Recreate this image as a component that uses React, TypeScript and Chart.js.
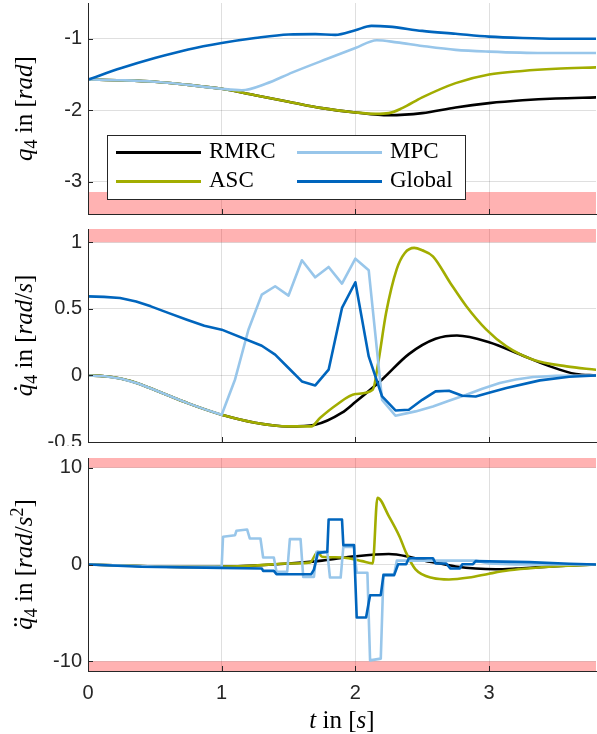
import React, { useEffect, useRef } from 'react';
import { Chart, registerables } from 'chart.js';

Chart.register(...registerables);

// ---------- series meta ----------
const SERIES_NAMES = ['RMRC', 'ASC', 'MPC', 'Global'];
const SERIES_COLORS = ['#000000', '#A2AD00', '#98C6EA', '#0065BD'];
const SERIES_ORDER = [3, 2, 1, 0];

const T_MAX = 3.8;
const X_TICKS = [0, 1, 2, 3];
const X_TICK_LABELS = ['0', '1', '2', '3'];

// ---------- q4 [rad] ----------
const Q_Y_TICKS = [-3, -2, -1];
const Q_Y_LABELS = ['-3', '-2', '-1'];
const Q_LOWER_LIMIT = -3.1416;

const Q_T_RMRC = [0, 0.25, 0.5, 0.75, 1.0, 1.25, 1.5, 1.75, 2.0, 2.25, 2.5, 2.75, 3.0, 3.25, 3.5, 3.8];
const Q_RMRC = [-1.57, -1.58, -1.6, -1.645, -1.7, -1.79, -1.88, -1.97, -2.03, -2.07, -2.04, -1.96, -1.9, -1.86, -1.835, -1.82];
const Q_T_ASC = [0, 0.25, 0.5, 0.75, 1.0, 1.25, 1.5, 1.75, 2.0, 2.15, 2.25, 2.35, 2.5, 2.75, 3.0, 3.25, 3.5, 3.8];
const Q_ASC = [-1.57, -1.58, -1.6, -1.645, -1.7, -1.79, -1.88, -1.97, -2.03, -2.05, -2.04, -1.97, -1.82, -1.62, -1.5, -1.45, -1.42, -1.4];
const Q_T_MPC = [0, 0.25, 0.5, 0.75, 1.0, 1.15, 1.33, 1.53, 1.79, 2.0, 2.16, 2.31, 2.5, 2.75, 3.0, 3.4, 3.8];
const Q_MPC = [-1.57, -1.58, -1.6, -1.645, -1.7, -1.72, -1.63, -1.47, -1.28, -1.13, -1.02, -1.05, -1.1, -1.155, -1.18, -1.2, -1.2];
const Q_T_GLOBAL = [0, 0.25, 0.5, 0.75, 1.0, 1.25, 1.5, 1.7, 1.85, 2.0, 2.12, 2.25, 2.5, 2.75, 3.0, 3.25, 3.5, 3.8];
const Q_GLOBAL = [-1.57, -1.41, -1.27, -1.15, -1.06, -0.99, -0.94, -0.935, -0.945, -0.88, -0.82, -0.83, -0.89, -0.93, -0.97, -0.99, -1.0, -1.0];

// ---------- q4 dot [rad/s] ----------
const QD_Y_TICKS = [-0.5, 0, 0.5, 1];
const QD_Y_LABELS = ['-0.5', '0', '0.5', '1'];
const QD_UPPER_LIMIT = 1.0;

const QD_T_RMRC = [0, 0.125, 0.25, 0.375, 0.5, 0.625, 0.75, 0.875, 1.0, 1.25, 1.5, 1.7, 1.9, 2.0, 2.2, 2.4, 2.6, 2.76, 3.0, 3.25, 3.45, 3.65, 3.8];
const QD_RMRC = [0, -0.006, -0.025, -0.06, -0.11, -0.16, -0.21, -0.255, -0.295, -0.355, -0.383, -0.37, -0.28, -0.2, -0.03, 0.16, 0.275, 0.3, 0.25, 0.15, 0.07, 0.01, 0];
const QD_T_ASC = [0, 0.125, 0.25, 0.375, 0.5, 0.625, 0.75, 0.875, 1.0, 1.25, 1.5, 1.67, 1.735, 1.86, 2.0, 2.13, 2.17, 2.23, 2.31, 2.37, 2.44, 2.5, 2.58, 2.71, 2.83, 2.98, 3.13, 3.33, 3.58, 3.8];
const QD_ASC = [0, -0.006, -0.025, -0.06, -0.11, -0.16, -0.21, -0.255, -0.295, -0.355, -0.383, -0.383, -0.32, -0.22, -0.14, -0.107, 0.09, 0.47, 0.8, 0.92, 0.958, 0.94, 0.895, 0.695, 0.52, 0.344, 0.218, 0.118, 0.068, 0.043];
const QD_T_MPC = [0, 0.125, 0.25, 0.375, 0.5, 0.625, 0.75, 0.875, 1.0, 1.1, 1.2, 1.3, 1.4, 1.5, 1.6, 1.7, 1.8, 1.9, 2.0, 2.1, 2.2, 2.3, 2.45, 2.58, 2.7, 2.83, 2.95, 3.08, 3.2, 3.33, 3.5, 3.8];
const QD_MPC = [0, -0.006, -0.025, -0.06, -0.11, -0.16, -0.21, -0.255, -0.295, -0.03, 0.343, 0.607, 0.67, 0.6, 0.865, 0.737, 0.815, 0.69, 0.877, 0.79, -0.183, -0.303, -0.27, -0.233, -0.19, -0.145, -0.1, -0.057, -0.03, -0.012, -0.003, 0];
const QD_T_GLOBAL = [0, 0.12, 0.24, 0.36, 0.47, 0.6, 0.74, 0.87, 1.0, 1.3, 1.4, 1.5, 1.6, 1.7, 1.8, 1.9, 2.0, 2.1, 2.2, 2.3, 2.4, 2.5, 2.6, 2.7, 2.8, 2.9, 3.0, 3.13, 3.38, 3.6, 3.8];
const QD_GLOBAL = [0.594, 0.59, 0.582, 0.555, 0.519, 0.47, 0.419, 0.374, 0.344, 0.223, 0.156, 0.056, -0.045, -0.075, 0.043, 0.507, 0.7, 0.143, -0.158, -0.263, -0.258, -0.183, -0.12, -0.115, -0.153, -0.158, -0.13, -0.095, -0.037, -0.01, 0];

// ---------- q4 ddot [rad/s^2] ----------
const QDD_Y_TICKS = [-10, 0, 10];
const QDD_Y_LABELS = ['-10', '0', '10'];
const QDD_UPPER_LIMIT = 10;
const QDD_LOWER_LIMIT = -10;

const QDD_T_RMRC = [0, 0.25, 0.5, 0.75, 1.0, 1.25, 1.5, 1.75, 2.0, 2.25, 2.4, 2.5, 2.63, 2.75, 2.9, 3.05, 3.2, 3.35, 3.5, 3.65, 3.8];
const QDD_RMRC = [0, -0.1, -0.2, -0.25, -0.22, -0.1, 0.1, 0.4, 0.85, 1.08, 0.8, 0.45, 0.1, -0.2, -0.42, -0.49, -0.42, -0.3, -0.17, -0.07, 0];
const QDD_T_ASC = [0, 0.25, 0.5, 0.75, 1.0, 1.25, 1.5, 1.66, 1.72, 1.75, 1.85, 1.95, 2.05, 2.13, 2.165, 2.25, 2.33, 2.38, 2.45, 2.58, 2.7, 2.85, 3.0, 3.15, 3.35, 3.6, 3.8];
const QDD_ASC = [0, -0.1, -0.2, -0.25, -0.22, -0.1, 0.1, 0.2, 1.3, 0.8, 0.75, 0.65, 0.35, 0.12, 6.9, 5.0, 2.9, 1.2, -0.5, -1.4, -1.55, -1.35, -0.95, -0.6, -0.33, -0.12, 0];
const QDD_T_MPC = [0, 0.25, 0.5, 0.75, 1.0, 1.01, 1.1, 1.11, 1.19, 1.21, 1.29, 1.31, 1.39, 1.41, 1.49, 1.51, 1.59, 1.61, 1.69, 1.71, 1.79, 1.81, 1.89, 1.91, 1.99, 2.01, 2.09, 2.11, 2.19, 2.21, 2.29, 2.31, 2.9, 3.0, 3.2, 3.8];
const QDD_MPC = [0, -0.1, -0.2, -0.25, -0.22, 2.86, 3.03, 3.48, 3.62, 2.69, 2.69, 0.72, 0.72, -0.75, -0.75, 2.62, 2.62, -1.28, -1.28, 1.3, 1.3, -1.35, -1.35, 1.82, 1.82, -0.85, -0.85, -9.9, -9.72, -1.0, -1.0, 0.4, 0.4, 0.1, 0, 0];
const QDD_T_GLOBAL = [0, 0.4, 1.0, 1.3, 1.31, 1.39, 1.41, 1.67, 1.69, 1.72, 1.79, 1.8, 1.9, 1.91, 1.99, 2.01, 2.08, 2.11, 2.19, 2.21, 2.29, 2.32, 2.38, 2.4, 2.58, 2.6, 2.68, 2.71, 2.78, 2.8, 2.88, 2.9, 3.3, 3.6, 3.8];
const QDD_GLOBAL = [0, -0.24, -0.35, -0.41, -0.66, -0.66, -1.0, -1.0, -0.52, 1.2, 1.3, 4.65, 4.65, 2.0, 2.0, -5.48, -5.48, -3.17, -3.17, -1.1, -1.1, 0.03, 0.03, 0.65, 0.65, 0.1, 0.1, -0.41, -0.41, 0.03, 0.03, 0.35, 0.25, 0.08, 0];

// ---------- texts ----------
type Seg = { text: string; italic?: boolean; script?: 'sub' | 'sup'; dots?: number };
const Y_TITLE_Q: Seg[] = [
  { text: 'q', italic: true }, { text: '4', script: 'sub' }, { text: ' in ' }, { text: '[' }, { text: 'rad', italic: true }, { text: ']' },
];
const Y_TITLE_QD: Seg[] = [
  { text: 'q', italic: true, dots: 1 }, { text: '4', script: 'sub' }, { text: ' in ' }, { text: '[' }, { text: 'rad', italic: true }, { text: '/' }, { text: 's', italic: true }, { text: ']' },
];
const Y_TITLE_QDD: Seg[] = [
  { text: 'q', italic: true, dots: 2 }, { text: '4', script: 'sub' }, { text: ' in ' }, { text: '[' }, { text: 'rad', italic: true }, { text: '/' }, { text: 's', italic: true }, { text: '2', script: 'sup' }, { text: ']' },
];
const X_TITLE: Seg[] = [
  { text: 't', italic: true }, { text: ' in ' }, { text: '[' }, { text: 's', italic: true }, { text: ']' },
];

// ---------- style ----------
const AXIS_COLOR = '#262626';
const GRID_COLOR = 'rgba(38,38,38,0.15)';
const BAND_COLOR = 'rgba(255,0,0,0.3)';
const SERIF = '"Liberation Serif", "Times New Roman", serif';
const SANS = '"Liberation Sans", Arial, sans-serif';
const W = 597;

const pts = (ts: number[], vs: number[]) => ts.map((t, i) => ({ x: t, y: vs[i] }));

function drawRich(ctx: CanvasRenderingContext2D, segs: Seg[], size: number, cx: number, cy: number, rotate: boolean) {
  const fontFor = (s: Seg) => `${s.italic ? 'italic ' : ''}${s.script ? Math.round(size * 0.7) : size}px ${SERIF}`;
  const widths = segs.map((s) => { ctx.font = fontFor(s); return ctx.measureText(s.text).width; });
  const total = widths.reduce((a, b) => a + b, 0);
  ctx.save();
  ctx.translate(cx, cy);
  if (rotate) ctx.rotate(-Math.PI / 2);
  ctx.fillStyle = '#000';
  ctx.textBaseline = 'alphabetic';
  ctx.textAlign = 'left';
  let x = -total / 2;
  segs.forEach((s, i) => {
    ctx.font = fontFor(s);
    const dy = s.script === 'sub' ? size * 0.2 : s.script === 'sup' ? -size * 0.38 : 0;
    ctx.fillText(s.text, x, dy);
    if (s.dots) {
      const dcx = x + widths[i] * 0.62;
      const dcy = -size * 0.66;
      const offs = s.dots === 1 ? [0] : [-2.8, 2.8];
      offs.forEach((o) => { ctx.beginPath(); ctx.arc(dcx + o, dcy, 1.5, 0, Math.PI * 2); ctx.fill(); });
    }
    x += widths[i];
  });
  ctx.restore();
}

type Panel = {
  top: number; height: number; padTop: number; xHeight: number;
  yMin: number; yMax: number; yTicks: number[]; yLabels: string[];
  series: { x: number; y: number }[][]; smooth: boolean[];
  bands: { value: number; fill: 'start' | 'end' }[];
  yTitle: Seg[]; showXLabels: boolean; legend: boolean;
};

const PANELS: Panel[] = [
  {
    top: 0, height: 222, padTop: 3, xHeight: 8, yMin: -3.45, yMax: -0.5, yTicks: Q_Y_TICKS, yLabels: Q_Y_LABELS,
    series: [pts(Q_T_RMRC, Q_RMRC), pts(Q_T_ASC, Q_ASC), pts(Q_T_MPC, Q_MPC), pts(Q_T_GLOBAL, Q_GLOBAL)],
    smooth: [true, true, true, true], bands: [{ value: Q_LOWER_LIMIT, fill: 'start' }],
    yTitle: Y_TITLE_Q, showXLabels: false, legend: true,
  },
  {
    top: 222, height: 228, padTop: 7, xHeight: 8, yMin: -0.5, yMax: 1.1, yTicks: QD_Y_TICKS, yLabels: QD_Y_LABELS,
    series: [pts(QD_T_RMRC, QD_RMRC), pts(QD_T_ASC, QD_ASC), pts(QD_T_MPC, QD_MPC), pts(QD_T_GLOBAL, QD_GLOBAL)],
    smooth: [true, true, false, false], bands: [{ value: QD_UPPER_LIMIT, fill: 'end' }],
    yTitle: Y_TITLE_QD, showXLabels: false, legend: false,
  },
  {
    top: 446, height: 288, padTop: 12, xHeight: 63, yMin: -11, yMax: 11, yTicks: QDD_Y_TICKS, yLabels: QDD_Y_LABELS,
    series: [pts(QDD_T_RMRC, QDD_RMRC), pts(QDD_T_ASC, QDD_ASC), pts(QDD_T_MPC, QDD_MPC), pts(QDD_T_GLOBAL, QDD_GLOBAL)],
    smooth: [true, true, false, false],
    bands: [{ value: QDD_UPPER_LIMIT, fill: 'end' }, { value: QDD_LOWER_LIMIT, fill: 'start' }],
    yTitle: Y_TITLE_QDD, showXLabels: true, legend: false,
  },
];

function makeDecor(p: Panel) {
  return {
    id: 'decor',
    afterDraw(chart: any) {
      const { ctx, chartArea: a, scales } = chart;
      const xs = scales.x; const ys = scales.y;
      ctx.save();
      ctx.strokeStyle = AXIS_COLOR;
      ctx.lineWidth = 1;
      ctx.beginPath();
      ctx.moveTo(a.left + 0.5, a.top); ctx.lineTo(a.left + 0.5, a.bottom + 0.5);
      ctx.lineTo(a.right, a.bottom + 0.5);
      ctx.stroke();
      X_TICKS.forEach((v) => {
        const px = Math.round(xs.getPixelForValue(v)) + 0.5;
        ctx.beginPath(); ctx.moveTo(px, a.bottom); ctx.lineTo(px, a.bottom - 5); ctx.stroke();
      });
      p.yTicks.forEach((v) => {
        const py = Math.round(ys.getPixelForValue(v)) + 0.5;
        ctx.beginPath(); ctx.moveTo(a.left, py); ctx.lineTo(a.left + 5, py); ctx.stroke();
      });
      if (p.legend) {
        const bx = 107.5, by = 135.5, bw = 358, bh = 64;
        ctx.fillStyle = '#fff';
        ctx.fillRect(bx, by, bw, bh);
        ctx.strokeStyle = AXIS_COLOR;
        ctx.strokeRect(bx, by, bw, bh);
        const colX = [116, 297];
        const rowY = [152.5, 181.5];
        chart.data.datasets.filter((d: any) => d.isSeries).forEach((d: any, i: number) => {
          const col = Math.floor(i / 2); const row = i % 2;
          const lx = colX[col]; const ly = rowY[row];
          ctx.strokeStyle = d.borderColor; ctx.lineWidth = 3;
          ctx.beginPath(); ctx.moveTo(lx, ly); ctx.lineTo(lx + 85, ly); ctx.stroke();
          ctx.fillStyle = '#000';
          ctx.font = `23px ${SERIF}`;
          ctx.textBaseline = 'alphabetic';
          ctx.textAlign = 'left';
          ctx.fillText(d.label, lx + 93, ly + 5.5);
        });
      }
      ctx.restore();
      drawRich(ctx, p.yTitle, 25, 32, (a.top + a.bottom) / 2, true);
      if (p.showXLabels) drawRich(ctx, X_TITLE, 25, (a.left + a.right) / 2, a.bottom + 57, false);
    },
  };
}

function buildConfig(p: Panel): any {
  const datasets: any[] = [];
  p.bands.forEach((b) => {
    datasets.push({
      label: 'limit', data: [{ x: 0, y: b.value }, { x: T_MAX, y: b.value }],
      borderColor: 'transparent', borderWidth: 0, backgroundColor: BAND_COLOR, fill: b.fill,
      pointRadius: 0, order: 10, tension: 0,
    });
  });
  p.series.forEach((data, i) => {
    datasets.push({
      label: SERIES_NAMES[i], isSeries: true, data, borderColor: SERIES_COLORS[i], backgroundColor: SERIES_COLORS[i],
      borderWidth: 2.6, pointRadius: 0, fill: false, order: SERIES_ORDER[i],
      cubicInterpolationMode: p.smooth[i] ? 'monotone' : 'default', tension: 0,
      borderJoinStyle: 'round', borderCapStyle: 'round',
    });
  });
  return {
    type: 'line',
    data: { datasets },
    plugins: [makeDecor(p)],
    options: {
      responsive: false, animation: false, devicePixelRatio: 1,
      layout: { padding: { top: p.padTop, right: 1, left: 0, bottom: 0 } },
      plugins: { legend: { display: false }, tooltip: { enabled: false }, title: { display: false } },
      events: [],
      scales: {
        x: {
          type: 'linear', min: 0, max: T_MAX,
          afterBuildTicks: (s: any) => { s.ticks = X_TICKS.map((v) => ({ value: v })); },
          afterFit: (s: any) => { s.height = p.xHeight; s.paddingLeft = 0; s.paddingRight = 0; },
          grid: { color: GRID_COLOR, drawTicks: false, lineWidth: 1 },
          border: { display: true, color: AXIS_COLOR, width: 1 },
          ticks: {
            display: p.showXLabels, padding: 10, color: AXIS_COLOR, maxRotation: 0, autoSkip: false,
            font: { family: SANS, size: 20 },
            callback: (_v: any, idx: number) => X_TICK_LABELS[idx],
          },
        },
        y: {
          type: 'linear', min: p.yMin, max: p.yMax,
          afterBuildTicks: (s: any) => { s.ticks = p.yTicks.map((v) => ({ value: v })); },
          afterFit: (s: any) => { s.width = 88; s.paddingTop = 0; s.paddingBottom = 0; },
          grid: { color: GRID_COLOR, drawTicks: false, lineWidth: 1 },
          border: { display: true, color: AXIS_COLOR, width: 1 },
          ticks: {
            padding: 6, color: AXIS_COLOR, autoSkip: false,
            font: { family: SANS, size: 20 },
            callback: (_v: any, idx: number) => p.yLabels[idx],
          },
        },
      },
    },
  };
}

function PanelChart({ p }: { p: Panel }) {
  const ref = useRef<HTMLCanvasElement>(null);
  useEffect(() => {
    if (!ref.current) return;
    const chart = new Chart(ref.current, buildConfig(p));
    return () => chart.destroy();
  }, []);
  return (
    <canvas
      ref={ref}
      width={W}
      height={p.height}
      style={{ position: 'absolute', left: 0, top: p.top, width: W, height: p.height, background: '#fff', display: 'block' }}
    />
  );
}

export default function App() {
  return (
    <div style={{ position: 'absolute', left: 0, top: 0, width: W, height: 734, background: '#fff', overflow: 'hidden' }}>
      {PANELS.map((p, i) => <PanelChart key={i} p={p} />)}
    </div>
  );
}
